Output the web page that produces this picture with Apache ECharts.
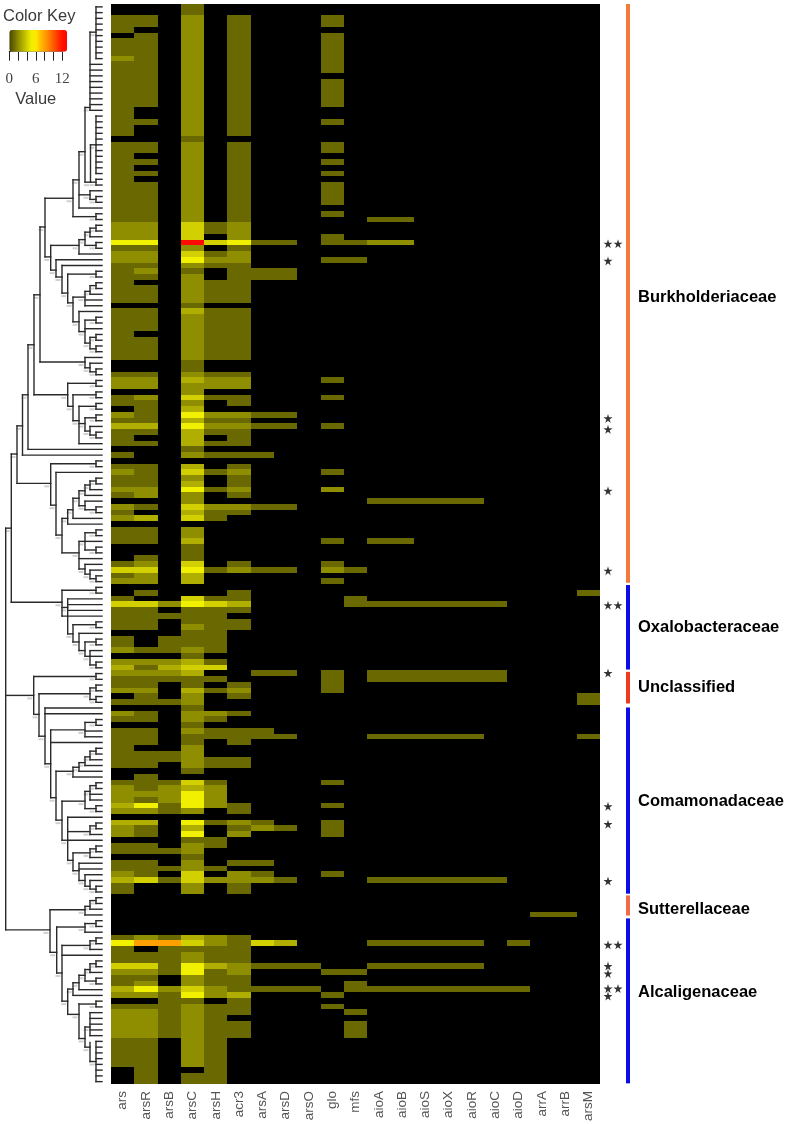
<!DOCTYPE html>
<html><head><meta charset="utf-8"><style>html,body{margin:0;background:#fff}#c{width:789px;height:1124px}</style>
<script src="https://cdn.jsdelivr.net/npm/echarts@6/dist/echarts.min.js"></script></head><body><div id="c"></div><script>
const a=1,b=2,c=3,d=4,e=5,o=8,r=12.5;
const rowCount=188;
const genes=['ars','arsR','arsB','arsC','arsH','acr3','arsA','arsD','arsO','glo','mfs','aioA','aioB','aioS','aioX','aioR','aioC','aioD','arrA','arrB','arsM'];
const ars=[[2,4,a],[6,8,a],[9,9,b],[10,22,a],[24,37,a],[38,40,b],[41,41,e],[42,42,a],[43,44,b],[45,51,a],[53,61,a],[64,64,a],[65,66,b],[68,69,a],[71,71,b],[72,72,a],[73,73,c],[74,76,a],[78,78,a],[80,80,a],[81,81,b],[82,83,a],[84,84,b],[85,85,a],[87,87,b],[88,88,a],[89,89,b],[91,93,a],[97,97,a],[98,98,d],[99,99,a],[100,100,b],[103,103,a],[104,104,d],[105,108,a],[110,111,a],[112,112,b],[114,114,b],[115,115,c],[116,116,b],[117,118,a],[119,119,b],[121,121,a],[123,123,b],[124,124,a],[126,132,a],[135,135,a],[136,138,b],[139,139,c],[140,140,b],[142,142,c],[143,144,b],[146,147,a],[149,150,a],[151,151,b],[152,152,c],[153,154,a],[162,162,a],[163,163,e],[164,166,a],[167,167,d],[168,168,b],[169,170,a],[171,171,c],[172,172,b],[174,174,a],[175,179,b],[180,184,a]];
const arsR=[[2,3,a],[5,17,a],[20,20,a],[24,25,a],[27,27,a],[29,29,a],[31,37,a],[38,40,b],[41,41,e],[42,42,a],[43,44,b],[45,45,a],[46,46,b],[47,47,a],[49,51,a],[53,56,a],[58,61,a],[64,64,a],[65,66,b],[68,68,b],[69,72,a],[73,73,c],[74,74,a],[76,76,a],[80,83,a],[84,85,b],[87,87,a],[89,89,c],[91,93,a],[96,96,a],[97,97,b],[98,98,d],[99,100,b],[102,102,a],[104,104,d],[105,108,a],[112,112,a],[114,114,b],[115,115,a],[116,116,b],[117,118,a],[119,119,b],[120,121,a],[123,124,a],[126,128,a],[130,132,a],[134,136,a],[137,137,b],[138,138,a],[139,139,e],[140,140,b],[142,142,c],[143,144,a],[146,147,a],[149,151,a],[152,152,d],[162,162,b],[163,163,o],[165,166,a],[167,167,d],[168,168,b],[169,169,a],[170,170,b],[171,171,e],[172,172,b],[174,174,a],[175,179,b],[180,187,a]];
const arsB=[[104,104,b],[106,106,a],[110,112,a],[114,114,b],[115,115,c],[116,116,b],[117,117,a],[121,121,a],[130,131,a],[135,135,a],[136,138,b],[139,140,a],[147,147,a],[150,150,a],[152,152,a],[162,162,a],[163,163,o],[164,168,a],[171,171,b],[172,179,a]];
const arsC=[[0,1,a],[2,22,b],[23,23,a],[24,37,b],[38,40,d],[41,41,r],[42,42,b],[43,43,d],[44,44,e],[45,45,b],[46,46,a],[47,51,b],[52,52,a],[53,53,c],[54,61,b],[62,63,a],[64,64,b],[65,65,c],[66,67,b],[68,68,d],[69,69,b],[70,70,c],[71,71,e],[72,72,c],[73,73,e],[74,76,c],[77,77,a],[78,78,b],[80,80,c],[81,81,d],[82,82,b],[83,83,c],[84,84,e],[85,86,b],[87,87,d],[88,88,c],[89,89,d],[91,92,b],[93,93,c],[94,96,a],[97,97,d],[98,98,e],[99,100,c],[103,103,d],[104,104,e],[105,107,a],[108,108,b],[109,111,a],[112,112,b],[113,113,a],[114,114,c],[115,115,d],[116,116,c],[117,118,a],[119,119,c],[120,121,b],[122,122,a],[123,124,b],[125,125,a],[126,126,b],[127,128,a],[129,132,b],[133,133,a],[135,135,d],[136,136,c],[137,139,e],[140,140,b],[142,142,e],[143,143,c],[144,144,e],[145,145,a],[146,147,b],[148,148,a],[149,150,b],[151,152,d],[153,154,b],[162,162,c],[163,163,d],[164,164,a],[165,166,b],[167,168,e],[169,170,b],[171,171,d],[172,172,e],[173,173,a],[174,184,b],[186,187,a]];
const arsH=[[38,39,a],[41,41,d],[43,43,a],[44,44,b],[45,45,a],[48,51,a],[53,61,a],[64,64,a],[65,66,b],[68,68,a],[71,71,b],[72,72,a],[73,73,b],[74,74,a],[76,76,a],[78,78,a],[81,81,a],[84,84,a],[87,87,b],[88,89,a],[98,98,a],[103,103,a],[104,104,d],[105,112,a],[114,114,a],[115,115,d],[117,117,a],[119,119,a],[123,123,b],[124,124,a],[126,127,a],[131,132,a],[135,135,a],[136,139,b],[142,142,a],[145,146,a],[150,150,a],[152,152,b],[162,163,b],[164,166,a],[167,167,c],[168,170,a],[171,172,b],[174,187,a]];
const acr3=[[2,22,a],[24,37,a],[38,40,b],[41,41,e],[42,42,a],[43,44,b],[45,51,a],[53,61,a],[64,64,a],[65,66,b],[68,69,a],[71,71,b],[72,72,a],[73,73,b],[74,76,a],[78,78,a],[80,80,a],[81,81,b],[82,83,a],[84,84,b],[85,85,a],[87,87,b],[88,88,a],[97,97,a],[98,98,b],[102,103,a],[104,104,c],[105,105,a],[107,108,a],[118,118,a],[119,119,b],[120,120,a],[123,123,a],[126,128,a],[131,132,a],[139,140,a],[142,142,b],[143,143,a],[144,144,b],[149,149,a],[151,152,b],[153,154,a],[162,166,a],[167,168,b],[169,171,a],[172,172,c],[173,175,a],[177,179,a]];
const arsA=[[41,41,a],[46,47,a],[71,71,a],[73,73,a],[78,78,a],[87,87,a],[98,98,a],[116,116,a],[126,127,a],[142,142,a],[143,143,b],[149,149,a],[151,151,a],[152,152,b],[163,163,d],[167,167,a],[171,171,a]];
const arsD=[[41,41,a],[46,47,a],[71,71,a],[73,73,a],[87,87,a],[98,98,a],[116,116,a],[127,127,a],[143,143,a],[152,152,a],[163,163,c],[167,167,a],[171,171,a]];
const arsO=[[167,167,a],[171,171,a]];
const glo=[[2,3,a],[5,11,a],[13,17,a],[20,20,a],[24,25,a],[27,27,a],[29,29,a],[31,34,a],[36,36,a],[40,41,a],[44,44,a],[65,65,a],[68,68,a],[73,73,a],[81,81,a],[84,84,b],[93,93,a],[97,97,a],[98,98,b],[100,100,a],[116,119,a],[135,135,a],[139,139,a],[142,144,a],[151,151,a],[168,168,a],[172,172,a],[174,174,a]];
const mfs=[[41,41,a],[44,44,a],[98,98,a],[103,104,a],[168,168,a],[170,171,a],[175,175,a],[177,179,a]];
const aioA=[[37,37,a],[41,41,b],[86,86,a],[93,93,a],[104,104,a],[116,117,a],[127,127,a],[152,152,a],[163,163,a],[167,167,a],[171,171,a]];
const aioB=[[37,37,a],[41,41,b],[86,86,a],[93,93,a],[104,104,a],[116,117,a],[127,127,a],[152,152,a],[163,163,a],[167,167,a],[171,171,a]];
const aioS=[[86,86,a],[104,104,a],[116,117,a],[127,127,a],[152,152,a],[163,163,a],[167,167,a],[171,171,a]];
const aioX=[[86,86,a],[104,104,a],[116,117,a],[127,127,a],[152,152,a],[163,163,a],[167,167,a],[171,171,a]];
const aioR=[[86,86,a],[104,104,a],[116,117,a],[127,127,a],[152,152,a],[163,163,a],[167,167,a],[171,171,a]];
const aioC=[[104,104,a],[116,117,a],[152,152,a],[171,171,a]];
const aioD=[[163,163,a],[171,171,a]];
const arrA=[[158,158,a]];
const arrB=[[158,158,a]];
const arsM=[[102,102,a],[120,121,a],[127,127,a]];
const geneRuns=[ars,arsR,arsB,arsC,arsH,acr3,arsA,arsD,arsO,glo,mfs,aioA,aioB,aioS,aioX,aioR,aioC,aioD,arrA,arrB,arsM];

// clades: [height, top, bottom, parentHeight, attach, directLeaves]
const clades=[
[96,0.5,9.5,90,4.9,[0,1,2,3,4,5,6,7,8,9]],[90,4.9,18.5,85,18,[10,11,12,13,14,15,16,17,18]],
[96,19.5,29.5,90.5,24.5,[19,20,21,22,23,24,25,26,27,28,29]],[96,30.5,31.5,90.5,31,[30,31]],[90.5,24.5,31,85,31,[]],
[85,18,31,79,25.7,[]],[96,33.5,34.5,90,34,[33,34]],[90,32.5,34,79,33.2,[32]],[79,25.7,35.5,73,30.6,[35]],
[96,36.5,37.5,73,37,[36,37]],[73,30.6,37,45,33.8,[]],
[96,38.5,39.5,90,39,[38,39]],[90,39,40.5,85,39.7,[40]],[96,41.5,42.5,85,42,[41,42]],[85,39.7,42,79,41,[]],[79,41,43.5,50.7,42,[43]],
[96,46.5,47.5,67.7,47,[46,47]],[96,48.5,49.5,90,49,[48,49]],[90,49,50.5,85,50,[50]],[85,50,52.5,73,51,[51,52]],
[96,54.5,55.5,85,55,[54,55]],[96,57.5,58.5,90,58,[57,58]],[96,59.5,60.5,90,60,[59,60]],[90,58,60,85,59,[]],[85,55,59,79,57,[56]],
[79,53.5,57,73,55.3,[53]],[73,51,55.3,67.7,52,[]],[67.7,47,52,62,50.3,[]],[62,45.5,50.3,56,47.5,[45]],[56,44.5,47.5,50.7,46.3,[44]],
[50.7,42,46.3,45,44,[]],[45,33.8,44,40,38.8,[]],
[96,63.5,64.5,90,64,[63,64]],[90,62.5,64,85,63.3,[62]],[85,61.5,63.3,40,62.3,[61]],[40,38.8,62.3,34,50.6,[]],
[96,65.5,66.5,67.7,66,[65,66]],[96,67.5,68.5,73,68,[67,68]],[96,69.5,70.5,79,70,[69,70]],
[96,71.5,72.5,85,72,[71,72]],[96,74.5,75.5,90,75,[74,75]],[90,73.5,75,85,74.3,[73]],[85,72,74.3,79,73,[]],
[79,70,76.5,73,72.5,[76]],[73,68,72.5,67.7,70,[]],[67.7,66,70,34,68,[]],[34,50.6,68,28,59.3,[]],
[28,59.3,77.5,22.5,68,[77]],[22.5,68,78.5,17,73.4,[78]],
[96,79.5,80.5,50.7,80,[79,80]],
[96,82.5,83.5,90,83,[82,83]],[90,83,84.5,85,83.7,[84]],[85,83.7,85.5,79,84.7,[85]],[96,87.5,88.5,85,88,[87,88]],[85,86.5,88,79,87.3,[86]],
[79,84.7,87.3,73,86,[]],[73,86,89.5,67.7,88,[89]],[67.7,88,90.5,62,89.5,[90]],
[96,91.5,92.5,85,92,[91,92]],[96,94.5,95.5,85,95,[94,95]],[85,92,95,79,93.5,[93]],
[96,99.5,100.5,90,100,[99,100]],[90,98.5,100,85,99.2,[98]],[85,97.5,99.2,79,98.3,[97]],[79,93.5,98.3,62,95.5,[96]],
[62,89.5,95.5,56,92.4,[]],[56,81.5,92.4,50.7,87.2,[81]],[50.7,80,87.2,17,83.4,[]],[17,73.4,83.4,11.3,78.3,[]],
[96,101.5,102.5,62,102,[101,102]],[96,107.5,108.5,73,108,[107,108]],[96,110.5,111.5,85,111,[110,111]],
[96,114.5,115.5,90,115,[114,115]],[90,112.5,115,85,113.5,[112,113]],[85,111,113.5,79,112.5,[]],[79,109.5,112.5,73,111,[109]],
[73,108,111,67.7,109.6,[]],[67.7,103.5,109.6,62,105,[103,104,105]],[62,102,106.5,11.3,104.1,[106]],[11.3,78.3,104.1,5.7,91.2,[]],
[96,116.5,117.5,33.7,117,[116,117]],[96,118.5,119.5,90,119,[118,119]],[96,120.5,121.5,90,121,[120,121]],[90,119,121,39,120,[]],
[96,124.5,125.5,85,125,[124,125]],[85,125,127.5,50.7,126.3,[126,127]],
[96,129.5,130.5,90,130,[129,130]],[90,130,131.5,85,131,[131]],[85,131,132.5,79,132,[132]],[79,132,133.5,73,132.8,[133]],[73,132.8,134.5,56,133.5,[134]],
[96,135.5,136.5,90,136,[135,136]],[90,136,138.5,85,137,[137,138]],[96,139.5,140.5,85,140,[139,140]],[85,137,140,62,138.7,[]],
[96,142.5,143.5,90,143,[142,143]],[90,143,144.5,67.7,144,[144]],
[96,146.5,147.5,90,147,[146,147]],[90,147,148.5,73,147.7,[148]],
[96,153.5,154.5,90,154,[153,154]],[90,152.5,154,85,153.5,[152]],[85,151.5,153.5,79,152.5,[151]],[79,149.5,152.5,73,150.8,[149,150]],
[73,147.7,150.8,67.7,149,[]],[67.7,141.5,149,62,145.5,[141,145]],[62,138.7,145.5,56,142,[]],[56,133.5,142,50.7,138.1,[]],
[50.7,126.3,138.1,45,132.2,[128]],[45,122.5,132.2,39,127.4,[122,123]],[39,120,127.4,33.7,123.6,[]],[33.7,117,123.6,5.7,120.3,[]],
[96,155.5,156.5,90,156,[155,156]],[90,156,157.5,85,157,[157]],[85,157,158.5,50,157.6,[158]],
[96,159.5,160.5,85,160,[159,160]],[85,160,161.5,56.7,160.6,[161]],
[96,162.5,163.5,90,163,[162,163]],[90,163,164.5,62,163.8,[164]],
[96,166.5,167.5,90,167,[166,167]],[90,167,168.5,85,168,[168]],[96,169.5,170.5,85,170,[169,170]],[85,168,170,79,169,[]],
[79,169,171.5,73,170.3,[171]],[73,170.3,172.5,67.7,171.4,[172]],
[96,173.5,174.5,79,174,[173,174]],[90,175.5,179.5,85,178,[175,176,177,178,179]],
[96,180.5,187.5,90,184,[180,181,182,183,184,185,186,187]],[90,180.7,184,85,181.5,[]],[85,178,181.5,79,180,[]],
[79,174,180,67.7,175.8,[]],[67.7,171.4,175.8,62,173.5,[]],[62,163.8,173.5,56.7,168.6,[165]],[56.7,160.6,168.6,50,165,[]],
[50,157.6,165,5.7,161.1,[]],[5.7,91.2,161.1,5.7,120.3,[]]
];
const leafTip=102;

const starRows=[[41.7,2],[44.7,1],[72.1,1],[74,1],[84.7,1],[98.6,1],[104.6,2],[116.4,1],[139.6,1],[142.7,1],[152.6,1],[163.7,2],[167.4,1],[168.7,1],[171.3,2],[172.6,1]];
const familyNames=['Burkholderiaceae','Oxalobacteraceae','Unclassified','Comamonadaceae','Sutterellaceae','Alcaligenaceae'];
const familyTop=[0,101.1,116.2,122.4,155.1,159.1];
const familyBottom=[100.7,115.8,121.7,154.8,158.6,187.8];
const familyLabelRow=[51,108.5,118.9,138.8,157.6,171.9];
const familyColors=['#f47a3a','#0c0ce6','#ee3a20','#0c0ce6','#f26a48','#0c0ce6'];

const cells=[];
geneRuns.forEach((runs,g)=>runs.forEach(([f,t,v])=>{for(let i=f;i<=t;i++)cells.push([g,i,v]);}));
const rowsCat=Array.from({length:rowCount},(_,i)=>String(i));
const segs=[];const marks=[];
clades.forEach(([h,t,bt,ph,at,lv])=>{
  segs.push([h,t,h,bt]);
  if(ph!==h){segs.push([ph,at,h,at]);marks.push([h,at]);}
  lv.forEach(l=>segs.push([h,l+0.5,leafTip,l+0.5]));
});
const stars=[];starRows.forEach(([y,n])=>{for(let i=0;i<n;i++)stars.push([608+10*i,y]);});
const starPath='path://M50 0 L61 35 L98 35 L68 57 L79 91 L50 70 L21 91 L32 57 L2 35 L39 35 Z';
const ch=echarts.init(document.getElementById('c'),null,{renderer:'canvas'});
const T=4,H=1080.5;
ch.setOption({
 animation:false,backgroundColor:'#fff',
 title:{text:'Color Key',left:3,top:8,padding:0,textStyle:{fontFamily:'Liberation Sans',fontSize:16.5,fontWeight:'normal',color:'#3a3a3a'}},
 grid:[
  {left:111,top:T,width:489,height:H,show:true,backgroundColor:'#000',borderWidth:0},
  {left:0,top:T,width:110,height:H},
  {left:600,top:T,width:189,height:H},
  {left:9.3,top:30,width:53,height:21.7}
 ],
 xAxis:[
  {gridIndex:0,type:'category',data:genes,position:'bottom',axisLine:{show:false},axisTick:{show:false},splitLine:{show:false},
   axisLabel:{rotate:90,interval:0,margin:7,fontFamily:'Liberation Sans',fontSize:13.5,color:'#555'}},
  {gridIndex:1,type:'value',min:0,max:110,show:false},
  {gridIndex:2,type:'value',min:600,max:789,show:false},
  {gridIndex:3,type:'value',min:0,max:12,interval:2,splitLine:{show:false},
   axisLine:{show:true,lineStyle:{color:'#222',width:1}},axisTick:{show:true,length:9,lineStyle:{color:'#222',width:1}},
   axisLabel:{margin:20,fontFamily:'Liberation Serif',fontSize:15,color:'#444',formatter:v=>v%6===0?String(v):''},
   name:'Value',nameLocation:'middle',nameGap:39,nameTextStyle:{fontFamily:'Liberation Sans',fontSize:16.5,color:'#3a3a3a'}}
 ],
 yAxis:[
  {gridIndex:0,type:'category',data:rowsCat,inverse:true,show:false},
  {gridIndex:1,type:'value',min:0,max:rowCount,inverse:true,show:false},
  {gridIndex:2,type:'value',min:0,max:rowCount,inverse:true,show:false},
  {gridIndex:3,type:'value',min:0,max:1,show:false}
 ],
 visualMap:{type:'continuous',min:0,max:13,seriesIndex:0,dimension:2,calculable:false,orient:'horizontal',left:9.3,top:30,padding:0,
  itemWidth:21.7,itemHeight:57.7,showLabel:false,text:null,hoverLink:false,
  inRange:{color:['#484800','#6a6800','#8f8d00','#b0ae00','#d2d000','#f0f000','#ffe800','#ffc000','#ffa000','#ff7c00','#ff5800','#ff3000','#ff1000','#ff0000']}},
 series:[
  {type:'custom',xAxisIndex:0,yAxisIndex:0,data:cells,encode:{x:0,y:1},silent:true,
   renderItem:(p,api)=>{const m=api.coord([api.value(0),api.value(1)]),s=api.size([1,1]);
    const x0=Math.round(m[0]-s[0]/2),x1=Math.round(m[0]+s[0]/2),y0=Math.round(m[1]-s[1]/2),y1=Math.round(m[1]+s[1]/2);
    return {type:'rect',shape:{x:x0,y:y0,width:x1-x0,height:y1-y0},style:{fill:api.visual('color')}};}},
  {type:'scatter',xAxisIndex:1,yAxisIndex:1,data:marks,symbol:'rect',symbolSize:[5,2],symbolOffset:[-4,3],silent:true,itemStyle:{color:'#c4c4c4'},z:1},
  {type:'custom',xAxisIndex:1,yAxisIndex:1,data:segs,encode:{x:[0,2],y:[1,3]},silent:true,z:2,
   renderItem:(p,api)=>{const s=api.coord([api.value(0),api.value(1)]),t=api.coord([api.value(2),api.value(3)]);
    return {type:'line',shape:{x1:s[0],y1:s[1],x2:t[0],y2:t[1]},style:{stroke:'#2a2a2a',lineWidth:1.4,lineCap:'square'}};}},
  {type:'scatter',xAxisIndex:2,yAxisIndex:2,data:stars,symbol:starPath,symbolSize:9,silent:true,itemStyle:{color:'#000'}},
  {type:'custom',xAxisIndex:2,yAxisIndex:2,data:familyNames.map((n,i)=>[628,familyTop[i],familyBottom[i],familyLabelRow[i],i]),encode:{x:0,y:[1,2]},silent:true,
   renderItem:(p,api)=>{const i=api.value(4),s=api.coord([628,api.value(1)]),t=api.coord([628,api.value(2)]),l=api.coord([638,api.value(3)]);
    return {type:'group',children:[
     {type:'rect',shape:{x:s[0]-2,y:s[1],width:4,height:t[1]-s[1]},style:{fill:familyColors[i]}},
     {type:'text',x:l[0],y:l[1],style:{text:familyNames[i],fill:'#000',font:'bold 16.5px "Liberation Sans"',textAlign:'left',textVerticalAlign:'middle'}}
    ]};}},
  {type:'line',xAxisIndex:3,yAxisIndex:3,data:[],silent:true}
 ]
});
</script></body></html>
